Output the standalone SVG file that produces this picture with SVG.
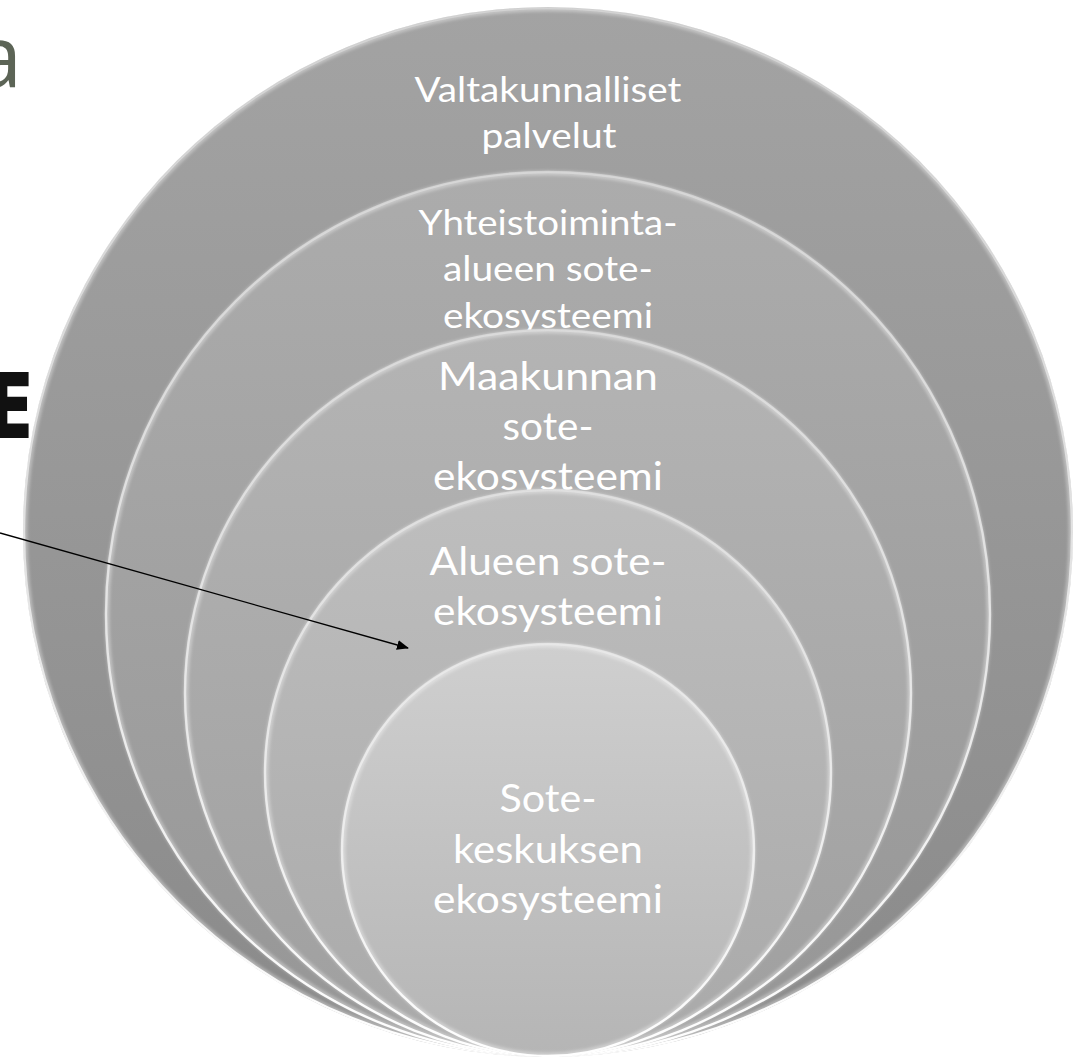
<svg xmlns="http://www.w3.org/2000/svg" width="1082" height="1061" viewBox="0 0 1082 1061">
  <defs>
    <style>
      .lbl { font-family: Lato, "Open Sans", "Liberation Sans", sans-serif; fill: #ffffff; text-anchor: middle; }
      .lbl-s { font-size: 35px; }
      .lbl-l { font-size: 38px; }
      .bg-a { font-family: "Open Sans", "Liberation Sans", sans-serif; font-size: 86px; fill: #5c6456; text-anchor: end; }
      .bg-e { font-family: "Open Sans", "Liberation Sans", sans-serif; font-weight: 800; font-size: 92px; fill: #111111; text-anchor: end; }
      .rim { fill: none; stroke: url(#rimGrad); stroke-width: 2.4; }
      .edge { fill: none; stroke: #ffffff; stroke-width: 5; stroke-opacity: 0.35; filter: url(#soft); }
    </style>
    <linearGradient id="g1" x1="0" y1="0" x2="0" y2="1">
      <stop offset="0" stop-color="#a3a3a3"/>
      <stop offset="1" stop-color="#8a8a8a"/>
    </linearGradient>
    <linearGradient id="g2" x1="0" y1="0" x2="0" y2="1">
      <stop offset="0" stop-color="#acacac"/>
      <stop offset="1" stop-color="#969696"/>
    </linearGradient>
    <linearGradient id="g3" x1="0" y1="0" x2="0" y2="1">
      <stop offset="0" stop-color="#b4b4b4"/>
      <stop offset="1" stop-color="#9f9f9f"/>
    </linearGradient>
    <linearGradient id="g4" x1="0" y1="0" x2="0" y2="1">
      <stop offset="0" stop-color="#bebebe"/>
      <stop offset="1" stop-color="#a9a9a9"/>
    </linearGradient>
    <linearGradient id="g5" x1="0" y1="0" x2="0" y2="1">
      <stop offset="0" stop-color="#cfcfcf"/>
      <stop offset="1" stop-color="#b5b5b5"/>
    </linearGradient>
    <linearGradient id="rimGrad" x1="0" y1="0" x2="0" y2="1">
      <stop offset="0" stop-color="#ffffff" stop-opacity="0.3"/>
      <stop offset="0.5" stop-color="#ffffff" stop-opacity="0.6"/>
      <stop offset="1" stop-color="#ffffff" stop-opacity="1"/>
    </linearGradient>
    <filter id="soft" x="-5%" y="-5%" width="110%" height="110%">
      <feGaussianBlur stdDeviation="1.5"/>
    </filter>
    <marker id="arrowHead" markerWidth="12" markerHeight="10" refX="11" refY="5" orient="auto" markerUnits="userSpaceOnUse">
      <path d="M0,0 L12,5 L0,10 Z" fill="#000000"/>
    </marker>
  </defs>

  <rect width="1082" height="1061" fill="#ffffff"/>

  <!-- slide title fragments at the left edge -->
  <text class="bg-a" x="22" y="87">a</text>
  <text class="bg-e" x="33" y="438">E</text>

  <!-- nested rings, outermost first -->
  <g id="valtakunnalliset">
    <circle cx="548" cy="532" r="525" fill="url(#g1)"/>
    <circle class="edge" cx="548" cy="532" r="523"/>
    <circle class="rim" cx="548" cy="532" r="524"/>
    <text class="lbl lbl-s"><tspan x="548" y="102" textLength="267" lengthAdjust="spacingAndGlyphs">Valtakunnalliset</tspan><tspan x="549" y="148" textLength="135" lengthAdjust="spacingAndGlyphs">palvelut</tspan></text>
  </g>

  <g id="yhteistoiminta">
    <circle cx="548" cy="614" r="443" fill="url(#g2)"/>
    <circle class="edge" cx="548" cy="614" r="441"/>
    <circle class="rim" cx="548" cy="614" r="442"/>
    <text class="lbl lbl-s"><tspan x="548" y="235" textLength="259" lengthAdjust="spacingAndGlyphs">Yhteistoiminta-</tspan><tspan x="548" y="281" textLength="210" lengthAdjust="spacingAndGlyphs">alueen sote-</tspan><tspan x="548" y="328" textLength="210" lengthAdjust="spacingAndGlyphs">ekosysteemi</tspan></text>
  </g>

  <g id="maakunnan">
    <circle cx="548" cy="693" r="364" fill="url(#g3)"/>
    <circle class="edge" cx="548" cy="693" r="362"/>
    <circle class="rim" cx="548" cy="693" r="363"/>
    <text class="lbl lbl-l"><tspan x="548" y="390" textLength="220" lengthAdjust="spacingAndGlyphs">Maakunnan</tspan><tspan x="548" y="440" textLength="91" lengthAdjust="spacingAndGlyphs">sote-</tspan><tspan x="548" y="490" textLength="230" lengthAdjust="spacingAndGlyphs">ekosysteemi</tspan></text>
  </g>

  <g id="alueen">
    <circle cx="548" cy="773" r="284" fill="url(#g4)"/>
    <circle class="edge" cx="548" cy="773" r="282"/>
    <circle class="rim" cx="548" cy="773" r="283"/>
    <text class="lbl lbl-l"><tspan x="548" y="575" textLength="237" lengthAdjust="spacingAndGlyphs">Alueen sote-</tspan><tspan x="548" y="625" textLength="230" lengthAdjust="spacingAndGlyphs">ekosysteemi</tspan></text>
  </g>

  <g id="sotekeskus">
    <circle cx="548" cy="850" r="207" fill="url(#g5)"/>
    <circle class="edge" cx="548" cy="850" r="205"/>
    <circle class="rim" cx="548" cy="850" r="206"/>
    <text class="lbl lbl-l"><tspan x="548" y="812" textLength="97" lengthAdjust="spacingAndGlyphs">Sote-</tspan><tspan x="548" y="863" textLength="190" lengthAdjust="spacingAndGlyphs">keskuksen</tspan><tspan x="548" y="913" textLength="230" lengthAdjust="spacingAndGlyphs">ekosysteemi</tspan></text>
  </g>

  <!-- pointer from the left margin into the regional ring -->
  <g id="connectors">
    <line x1="0" y1="533" x2="408" y2="648" stroke="#000000" stroke-width="1.3" marker-end="url(#arrowHead)"/>
  </g>
</svg>
